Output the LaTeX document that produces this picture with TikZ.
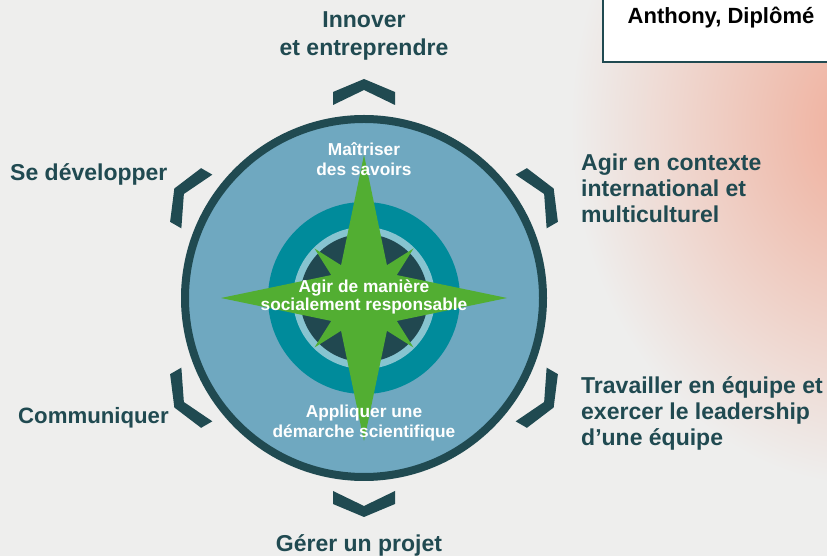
\documentclass[tikz,border=0pt]{standalone}
\usepackage{fontspec}
\setmainfont{Liberation Sans}
\definecolor{bg}{RGB}{238,238,237}
\definecolor{glow}{RGB}{240,172,152}
\definecolor{darkteal}{RGB}{32,74,81}
\definecolor{lightblue}{RGB}{111,168,192}
\definecolor{ringteal}{RGB}{0,139,155}
\definecolor{ringlight}{RGB}{135,196,208}
\definecolor{coredark}{RGB}{33,72,80}
\definecolor{stargreen}{RGB}{82,174,50}
\tikzset{
  outlabel/.style={text=darkteal, font=\fontsize{23}{26}\selectfont\bfseries, inner sep=0pt},
  inlabel/.style={text=white, font=\fontsize{17.3}{20}\selectfont\bfseries, inner sep=0pt, align=center},
  chevron/.style={fill=darkteal}
}
\begin{document}
\begin{tikzpicture}[x=1pt,y=1pt]
\useasboundingbox (0,0) rectangle (827,556);
\begin{scope}
\clip (0,0) rectangle (827,556);
\fill[bg] (0,0) rectangle (827,556);
\shade[inner color=glow, outer color=bg] (870,430) ellipse (300 and 360);
\end{scope}
\coordinate (c) at (364,258);
% main disc
\node[circle, draw=darkteal, line width=8pt, fill=lightblue, minimum size=358pt, inner sep=0pt] (disc) at (c) {};
\node[circle, fill=ringteal, minimum size=192pt, inner sep=0pt] (ring) at (c) {};
\node[circle, fill=ringlight, minimum size=142pt, inner sep=0pt] (ringl) at (c) {};
\node[circle, fill=coredark, minimum size=128pt, inner sep=0pt] (core) at (c) {};
% star
\fill[stargreen, shift={(c)}] (0:143) -- (35:40) -- (45:70) -- (55:40) -- (90:143) -- (125:40) -- (135:70) -- (145:40) -- (180:143) -- (215:40) -- (225:70) -- (235:40) -- (270:143) -- (305:40) -- (315:70) -- (325:40) -- cycle;
% chevrons
\foreach \a in {90,30,-30,-90,-150,150}{
  \fill[chevron, shift={(c)}, rotate=\a] (219,0) -- (206,31) -- (193,31) -- (208,0) -- (193,-31) -- (206,-31) -- cycle;
}
% inner labels
\node[inlabel] (savoirs) at (364,397) {Maîtriser\\des savoirs};
\node[inlabel, font=\fontsize{17.3}{15}\selectfont\bfseries] (social) at (364,259) {Agir de manière\\socialement responsable};
\node[inlabel] (appliquer) at (364,133) {Appliquer une\\démarche scientifique};
% outer labels
\node[outlabel, align=center, font=\fontsize{23}{28}\selectfont\bfseries] (innover) at (364,520) {Innover\\et entreprendre};
\node[outlabel, anchor=west] (dev) at (10,382) {Se développer};
\node[outlabel, anchor=west, align=left] (inter) at (581,368) {Agir en contexte\\international et\\multiculturel};
\node[outlabel, anchor=west, font=\fontsize{22.2}{26}\selectfont\bfseries] (comm) at (18,138) {Communiquer};
\node[outlabel, anchor=west, align=left] (equipe) at (581,143) {Travailler en équipe et\\exercer le leadership\\d’une équipe};
\node[outlabel] (projet) at (359,11) {Gérer un projet};
% top right box
\draw[darkteal, line width=2.5pt, fill=white] (603,494) rectangle (840,570);
\node[text=black, font=\fontsize{22}{26}\selectfont\bfseries, inner sep=0pt] (anthony) at (721,538) {Anthony, Diplômé};
\end{tikzpicture}
\end{document}
